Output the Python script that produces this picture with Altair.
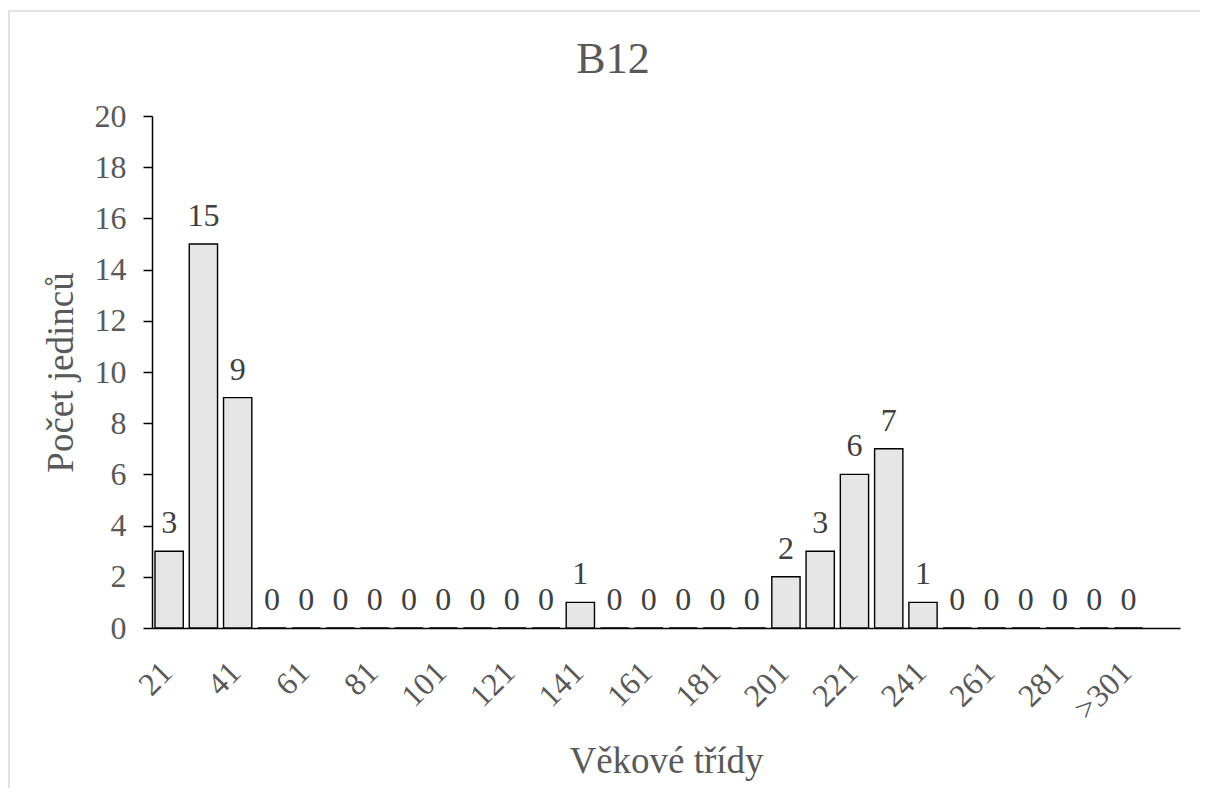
import altair as alt
import pandas as pd

categories = ["21", "31", "41", "51", "61", "71", "81", "91", "101", "111",
              "121", "131", "141", "151", "161", "171", "181", "191", "201", "211",
              "221", "231", "241", "251", "261", "271", "281", "291", ">301", " "]
counts = [3, 15, 9, 0, 0, 0, 0, 0, 0, 0,
          0, 0, 1, 0, 0, 0, 0, 0, 2, 3,
          6, 7, 1, 0, 0, 0, 0, 0, 0, None]
tick_labels = categories[:-1:2]

title_text = "B12"
x_title = "Věkové třídy"
y_title = "Počet jedinců"

df = pd.DataFrame({"cat": categories, "n": counts})

FONT = "Liberation Serif"

x_enc = alt.X("cat:N", sort=categories,
              scale=alt.Scale(domain=categories, paddingInner=0.175, paddingOuter=0.0875),
              axis=alt.Axis(values=tick_labels, labelAngle=-45, labelAlign="right",
                            labelBaseline="alphabetic", labelPadding=46, labelOffset=5,
                            ticks=False,
                            labelFontSize=32, labelColor="#595959", labelFont=FONT,
                            domainColor="#000000", domainWidth=1.5,
                            title=x_title, titleFontSize=37, titleFont=FONT,
                            titleColor="#595959", titleFontWeight="normal",
                            titleY=144, titleBaseline="alphabetic"))
y_enc = alt.Y("n:Q", scale=alt.Scale(domain=[0, 20]),
              axis=alt.Axis(values=list(range(0, 21, 2)), grid=False, tickSize=9,
                            tickColor="#000000", tickWidth=1.5,
                            domainColor="#000000", domainWidth=1.5,
                            labelFontSize=32, labelColor="#595959", labelFont=FONT,
                            labelPadding=17,
                            title=y_title, titleFontSize=37, titleFont=FONT,
                            titleColor="#595959", titleFontWeight="normal",
                            titleX=-80, titleBaseline="alphabetic"))

base = alt.Chart(df)
one = base.transform_filter("datum.cat == '21'")

border_left = one.mark_rule(stroke="#d9d9d9", strokeWidth=1.5).encode(
    x=alt.value(-143), y=alt.value(-105), y2=alt.value(1000)
)
border_top = one.mark_rule(stroke="#d9d9d9", strokeWidth=1.5).encode(
    x=alt.value(-143), x2=alt.value(1300), y=alt.value(-105)
)

title_mark = one.mark_text(text=title_text, font=FONT, fontSize=44, color="#595959",
                           baseline="alphabetic", align="center").encode(
    x=alt.value(461), y=alt.value(-43)
)

bars = base.mark_bar(fill="#e6e6e6", stroke="#000000", strokeWidth=1.4).encode(
    x=x_enc, y=y_enc
)

labels = base.mark_text(font=FONT, fontSize=32, color="#404040", baseline="alphabetic",
                        dy=-18).encode(
    x=alt.X("cat:N", sort=categories, scale=alt.Scale(domain=categories)),
    y="n:Q", text="n:Q"
)

chart = alt.layer(border_left, border_top, title_mark, bars, labels).properties(
    width=1028, height=512,
    autosize=alt.AutoSizeParams(type="none"),
    padding={"left": 144, "top": 108, "right": 20, "bottom": 160},
).configure_view(stroke=None)

chart.save("out.html", embed_options={"renderer": "svg", "actions": False})
